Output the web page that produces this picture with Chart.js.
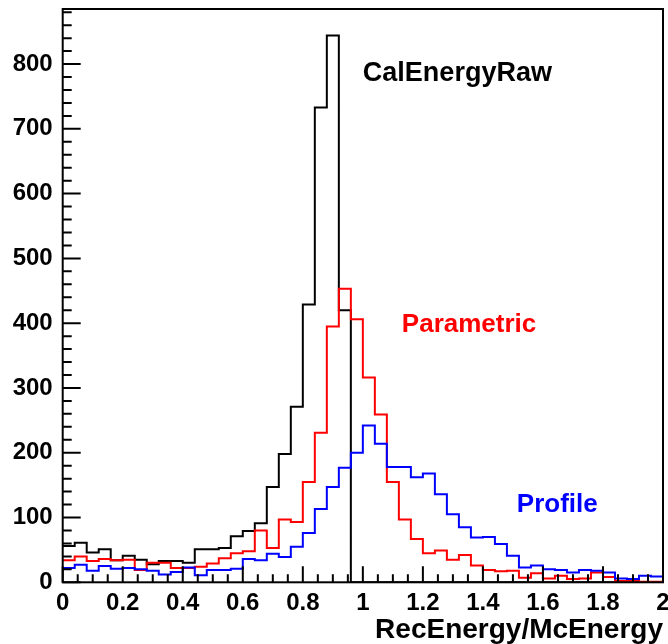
<!DOCTYPE html>
<html>
<head>
<meta charset="utf-8">
<title>RecEnergy/McEnergy</title>
<script src="https://cdn.jsdelivr.net/npm/chart.js@4.4.1/dist/chart.umd.min.js"></script>
<style>
    html, body { margin: 0; padding: 0; background: #fff; }
    #wrap { width: 668px; height: 644px; position: relative; }
</style>
</head>
<body>
<div id="wrap"><canvas id="chart-hist"></canvas></div>
<script>
// histogram binning: 50 bins of 0.04 from 0 to 2
const binLow = 0;
const binWidth = 0.04;

const calEnergyRaw = [56, 61, 46, 51, 34, 41, 35, 28, 33, 33,
    30, 51, 51, 53, 71, 79, 91, 147, 198, 271,
    429, 733, 844, 420, 0, 0, 0, 0, 0, 0,
    0, 0, 0, 0, 0, 0, 0, 0, 0, 0,
    0, 0, 0, 0, 0, 0, 0, 0, 0, 0];
const parametric = [34, 40, 33, 36, 34, 35, 19, 30, 30, 22,
    22, 24, 29, 37, 45, 48, 80, 53, 97, 93,
    155, 231, 395, 453, 406, 316, 259, 155, 97, 67,
    45, 49, 35, 42, 26, 19, 17, 18, 7, 14,
    6, 10, 5, 6, 15, 8, 2, 2, 1, 1];
const profile = [22, 27, 18, 25, 21, 22, 20, 18, 12, 16,
    23, 11, 19, 19, 21, 36, 34, 44, 39, 55,
    76, 113, 147, 177, 200, 242, 214, 178, 178, 162,
    168, 136, 105, 85, 69, 70, 59, 41, 23, 26,
    20, 19, 15, 19, 18, 15, 6, 5, 10, 9];

const xTicks = [0, 0.2, 0.4, 0.6, 0.8, 1, 1.2, 1.4, 1.6, 1.8, 2];
const xTickLabels = ["0", "0.2", "0.4", "0.6", "0.8", "1", "1.2", "1.4", "1.6", "1.8", "2"];
const yTicks = [0, 100, 200, 300, 400, 500, 600, 700, 800];
const yTickLabels = ["0", "100", "200", "300", "400", "500", "600", "700", "800"];

const FONT = "'Liberation Sans', Arial, sans-serif";

// step outline: one point per bin low edge, plus the closing edge
function toSteps(counts) {
    const pts = counts.map(function (v, i) { return { x: binLow + i * binWidth, y: v }; });
    pts.push({ x: binLow + counts.length * binWidth, y: counts[counts.length - 1] });
    return pts;
}

// ROOT-like frame, inward tick marks and the text labels
const frameAndLabels = {
    id: "frameAndLabels",
    afterDatasetsDraw: function (chart) {
        const ctx = chart.ctx;
        const a = chart.chartArea;
        const xs = chart.scales.x, ys = chart.scales.y;
        ctx.save();
        ctx.strokeStyle = "#000";
        ctx.lineWidth = 2;
        ctx.strokeRect(a.left, a.top, a.right - a.left, a.bottom - a.top);

        ctx.beginPath();
        // y axis ticks: major every 100, minor every 20
        for (let v = 0; v <= ys.max; v += 20) {
            const py = ys.getPixelForValue(v);
            const len = (v % 100 === 0) ? 18 : 9;
            ctx.moveTo(a.left, py);
            ctx.lineTo(a.left + len, py);
        }
        // x axis ticks: major every 0.2, minor every 0.05
        for (let k = 0; k <= 40; k++) {
            const px = xs.getPixelForValue(k * 0.05);
            const len = (k % 4 === 0) ? 16 : 8;
            ctx.moveTo(px, a.bottom);
            ctx.lineTo(px, a.bottom - len);
        }
        ctx.stroke();

        ctx.textAlign = "left";
        ctx.textBaseline = "alphabetic";
        ctx.fillStyle = "#000";
        ctx.font = "bold 27px " + FONT;
        ctx.fillText("CalEnergyRaw", xs.getPixelForValue(1.0), ys.getPixelForValue(774));
        ctx.fillStyle = "#ff0000";
        ctx.font = "bold 26px " + FONT;
        ctx.fillText("Parametric", xs.getPixelForValue(1.13), ys.getPixelForValue(387));
        ctx.fillStyle = "#0000ff";
        ctx.fillText("Profile", xs.getPixelForValue(1.513), ys.getPixelForValue(109));
        ctx.restore();
    }
};

var ctx = document.getElementById("chart-hist").getContext("2d");
new Chart(ctx, {
    type: "line",
    data: {
        datasets: [{
            label: "CalEnergyRaw",
            data: toSteps(calEnergyRaw),
            borderColor: "#000000",
            order: 3
        }, {
            label: "Parametric",
            data: toSteps(parametric),
            borderColor: "#ff0000",
            order: 2
        }, {
            label: "Profile",
            data: toSteps(profile),
            borderColor: "#0000ff",
            order: 1
        }]
    },
    options: {
        responsive: true,
        maintainAspectRatio: false,
        animation: false,
        events: [],
        layout: { padding: { left: 0, top: 9, right: 5, bottom: 0 } },
        elements: {
            line: { stepped: true, borderWidth: 2, fill: false, tension: 0 },
            point: { radius: 0 }
        },
        plugins: {
            legend: { display: false },
            tooltip: { enabled: false }
        },
        scales: {
            x: {
                type: "linear",
                min: 0,
                max: 2,
                grid: { display: false, drawTicks: false },
                border: { display: false },
                afterBuildTicks: function (scale) {
                    scale.ticks = xTicks.map(function (v) { return { value: v }; });
                },
                afterFit: function (scale) {
                    scale.height = 61.7;
                    scale.paddingLeft = 0;
                    scale.paddingRight = 0;
                },
                ticks: {
                    autoSkip: false,
                    maxRotation: 0,
                    padding: 7,
                    color: "#000",
                    font: { family: FONT, size: 24, weight: "bold" },
                    callback: function (value, index) { return xTickLabels[index]; }
                },
                title: {
                    display: true,
                    text: "RecEnergy/McEnergy",
                    align: "end",
                    color: "#000",
                    font: { family: FONT, size: 28, weight: "bold", lineHeight: 1.2 },
                    padding: { top: 0, bottom: -3 }
                }
            },
            y: {
                min: 0,
                max: 885,
                grid: { display: false, drawTicks: false },
                border: { display: false },
                afterBuildTicks: function (scale) {
                    scale.ticks = yTicks.map(function (v) { return { value: v }; });
                },
                afterFit: function (scale) {
                    scale.width = 62.7;
                    scale.paddingTop = 0;
                    scale.paddingBottom = 0;
                },
                ticks: {
                    autoSkip: false,
                    padding: 10,
                    color: "#000",
                    font: { family: FONT, size: 24, weight: "bold" },
                    callback: function (value, index) { return yTickLabels[index]; }
                }
            }
        }
    },
    plugins: [frameAndLabels]
});
</script>
</body>
</html>
